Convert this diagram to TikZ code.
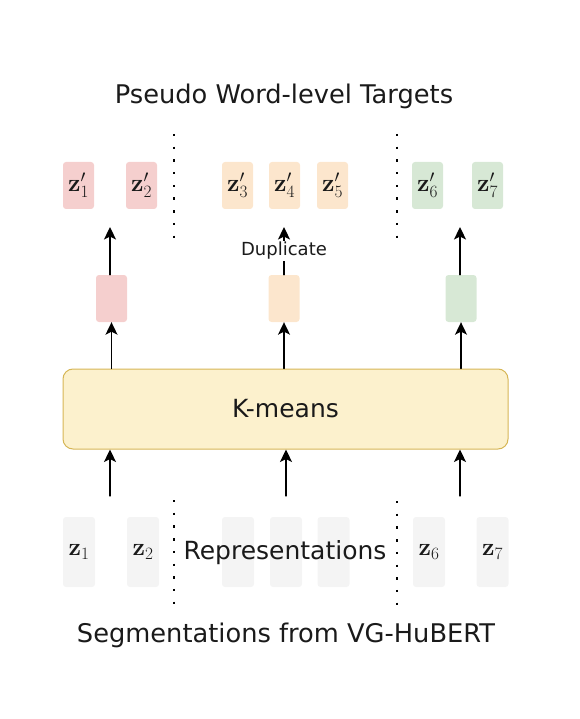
\documentclass[tikz,border=0pt]{standalone}
\usepackage[no-math]{fontspec}
\setmainfont{DejaVu Sans}
\usetikzlibrary{positioning,arrows.meta}
\usepackage{xcolor}
\definecolor{redtok}{HTML}{F5CFCE}
\definecolor{orangetok}{HTML}{FCE6CD}
\definecolor{greentok}{HTML}{D7E8D5}
\definecolor{graytok}{HTML}{F4F4F4}
\definecolor{kmfill}{HTML}{FCF1CD}
\definecolor{kmdraw}{HTML}{D6B656}
\definecolor{labeltext}{HTML}{1A1A1A}

\begin{document}
\begin{tikzpicture}[
  x=1pt,y=-1pt,
  line cap=round,line join=round,
  >={Stealth[length=12.5pt,width=12pt,inset=3pt]},
  tok/.style={rounded corners=3pt,minimum width=31,minimum height=47,inner sep=0pt,font=\fontsize{24}{24}\selectfont,text=labeltext},
  segtok/.style={tok,fill=graytok,minimum width=32,minimum height=70},
  flow/.style={->,line width=1.3pt},
  sep/.style={line width=2.4pt,line cap=butt,dash pattern=on 2.4pt off 10.3pt},
  big/.style={font=\fontsize{25}{25}\selectfont,text=labeltext},
  head/.style={font=\fontsize{25.7}{26}\selectfont,text=labeltext}
]
  \path[use as bounding box] (0,0) rectangle (580,719);

  \node[head] (title) at (284,96) {Pseudo Word-level Targets};
  \node[head] (source) at (286,635) {Segmentations from VG-HuBERT};

  \foreach \i/\x/\clr in {1/78.5/redtok,2/141.5/redtok,3/237.5/orangetok,4/284.5/orangetok,5/332.5/orangetok,6/427.5/greentok,7/487.5/greentok} {
    \node[tok,fill=\clr] (t\i) at (\x,185.5) {$\mathbf{z}'_{\i}$};
  }

  \foreach \i/\x/\clr in {1/111.5/redtok,2/284/orangetok,3/461/greentok} {
    \node[tok,fill=\clr] (m\i) at (\x,298.5) {};
  }

  \node[draw=kmdraw,fill=kmfill,line width=1pt,rounded corners=10pt,minimum width=445,minimum height=80,big] (km) at (285.5,409) {K-means};

  \foreach \i/\x in {1/79,2/143,6/429,7/492.5} {
    \node[segtok] (s\i) at (\x,552) {$\mathbf{z}_{\i}$};
  }
  \foreach \i/\x in {3/238,4/286,5/333.5} {
    \node[segtok] (s\i) at (\x,552) {};
  }
  \node[big] (repr) at (285,553) {Representations};

  \draw[sep] (174,134) -- (174,240);
  \draw[sep] (397,134) -- (397,240);
  \draw[sep] (174,500) -- (174,606);
  \draw[sep] (397,501) -- (397,607);

  \coordinate (g1) at (110,227);
  \coordinate (g2) at (284,227);
  \coordinate (g3) at (460,227);
  \coordinate (b1) at (110,496);
  \coordinate (b2) at (286,496);
  \coordinate (b3) at (460,496);

  \foreach \i in {1,2,3} {
    \draw[flow] (km.north -| m\i) -- (m\i.south);
    \draw[flow] (b\i) -- (b\i |- km.south);
  }
  \draw[flow] (m1.north -| g1) -- (g1);
  \draw[flow] (m3.north -| g3) -- (g3);
  \draw[flow] (m2.north) -- node[fill=white,inner sep=1.5pt,font=\fontsize{18}{18}\selectfont,text=labeltext] (dup) {Duplicate} (g2);
\end{tikzpicture}
\end{document}
